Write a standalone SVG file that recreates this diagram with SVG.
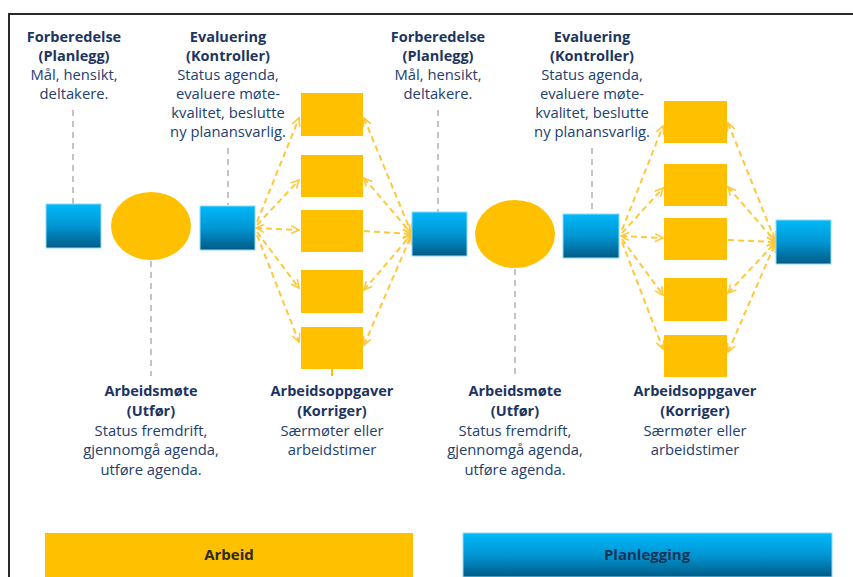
<svg xmlns="http://www.w3.org/2000/svg" width="853" height="577" viewBox="0 0 853 577">
<style>
.bg{fill:#ffffff}
.frame{fill:none;stroke:#2a2a2a;stroke-width:2}
.blue{fill:url(#blueGrad);stroke:#8fdcf8;stroke-width:1}
.yel{fill:#FFC000}
.lead{fill:none;stroke:#c4c4c4;stroke-width:2;stroke-dasharray:6 5}
.ytick{fill:none;stroke:#FFC000;stroke-width:2}
.con{fill:none;stroke:#FFC83A;stroke-width:2;stroke-dasharray:6 4}
.t{font-family:"Open Sans","Liberation Sans",sans-serif;font-size:14.8px;fill:#23406e;text-anchor:middle}
.b{font-weight:bold;font-size:14.5px;fill:#1c3461}
.bar{font-family:"Open Sans","Liberation Sans",sans-serif;font-size:15px;font-weight:bold;text-anchor:middle}
</style>
<defs>
<linearGradient id="blueGrad" x1="0" y1="0" x2="0" y2="1">
<stop offset="0" stop-color="#00b9f9"/>
<stop offset="0.5" stop-color="#0096d3"/>
<stop offset="1" stop-color="#005b86"/>
</linearGradient>
<marker id="arr" viewBox="0 0 10 10" refX="9" refY="5" markerWidth="10" markerHeight="10" markerUnits="userSpaceOnUse" orient="auto-start-reverse">
<path d="M1,1 L9,5 L1,9" fill="none" stroke="#FFC83A" stroke-width="1.6"/>
</marker>
</defs>
<rect class="bg" x="0" y="0" width="853" height="577"/>
<path class="frame" d="M9,577 L9,14 L853,14"/>

<g id="leaders">
<line class="lead" x1="73" y1="110" x2="73" y2="204"/>
<line class="lead" x1="228" y1="148" x2="228" y2="205"/>
<line class="lead" x1="151" y1="261" x2="151" y2="376"/>
<line class="ytick" x1="332" y1="369" x2="332" y2="376"/>
<line class="lead" x1="438" y1="110" x2="438" y2="212"/>
<line class="lead" x1="592" y1="148" x2="592" y2="213"/>
<line class="lead" x1="515" y1="269" x2="515" y2="376"/>
</g>

<g id="connectors">
<line class="con" x1="257" y1="222" x2="299" y2="118" marker-end="url(#arr)"/>
<line class="con" x1="257" y1="225" x2="299" y2="180" marker-end="url(#arr)"/>
<line class="con" x1="256" y1="228" x2="299" y2="230" marker-start="url(#arr)" marker-end="url(#arr)"/>
<line class="con" x1="257" y1="232" x2="299" y2="288" marker-end="url(#arr)"/>
<line class="con" x1="257" y1="235" x2="299" y2="342" marker-end="url(#arr)"/>
<line class="con" x1="364" y1="118" x2="411" y2="232" marker-start="url(#arr)" marker-end="url(#arr)"/>
<line class="con" x1="364" y1="178" x2="411" y2="233" marker-start="url(#arr)" marker-end="url(#arr)"/>
<line class="con" x1="364" y1="231" x2="411" y2="234" marker-end="url(#arr)"/>
<line class="con" x1="364" y1="290" x2="411" y2="235" marker-start="url(#arr)" marker-end="url(#arr)"/>
<line class="con" x1="364" y1="345" x2="411" y2="236" marker-start="url(#arr)" marker-end="url(#arr)"/>

<line class="con" x1="622" y1="230" x2="663" y2="126" marker-end="url(#arr)"/>
<line class="con" x1="622" y1="233" x2="663" y2="188" marker-end="url(#arr)"/>
<line class="con" x1="621" y1="236" x2="663" y2="238" marker-start="url(#arr)" marker-end="url(#arr)"/>
<line class="con" x1="622" y1="239" x2="663" y2="295" marker-end="url(#arr)"/>
<line class="con" x1="622" y1="242" x2="663" y2="349" marker-end="url(#arr)"/>
<line class="con" x1="728" y1="123" x2="775" y2="240" marker-start="url(#arr)" marker-end="url(#arr)"/>
<line class="con" x1="728" y1="187" x2="775" y2="241" marker-start="url(#arr)" marker-end="url(#arr)"/>
<line class="con" x1="728" y1="240" x2="775" y2="242" marker-end="url(#arr)"/>
<line class="con" x1="728" y1="293" x2="775" y2="243" marker-start="url(#arr)" marker-end="url(#arr)"/>
<line class="con" x1="728" y1="352" x2="775" y2="244" marker-start="url(#arr)" marker-end="url(#arr)"/>
</g>

<g id="plan1"><rect class="blue" x="46" y="204" width="55" height="44"/></g>
<g id="meeting1"><ellipse class="yel" cx="151" cy="226" rx="40" ry="34"/></g>
<g id="eval1"><rect class="blue" x="200" y="206" width="55" height="44"/></g>
<g id="task1a"><rect class="yel" x="301" y="93" width="62" height="43"/></g>
<g id="task1b"><rect class="yel" x="301" y="155" width="62" height="42"/></g>
<g id="task1c"><rect class="yel" x="301" y="210" width="62" height="42"/></g>
<g id="task1d"><rect class="yel" x="301" y="270" width="62" height="43"/></g>
<g id="task1e"><rect class="yel" x="301" y="327" width="62" height="42"/></g>
<g id="plan2"><rect class="blue" x="412" y="212" width="55" height="44"/></g>
<g id="meeting2"><ellipse class="yel" cx="515" cy="234" rx="40" ry="34"/></g>
<g id="eval2"><rect class="blue" x="563" y="214" width="56" height="44"/></g>
<g id="task2a"><rect class="yel" x="664" y="101" width="63" height="42"/></g>
<g id="task2b"><rect class="yel" x="664" y="164" width="63" height="42"/></g>
<g id="task2c"><rect class="yel" x="664" y="218" width="63" height="42"/></g>
<g id="task2d"><rect class="yel" x="664" y="278" width="63" height="43"/></g>
<g id="task2e"><rect class="yel" x="664" y="335" width="63" height="42"/></g>
<g id="plan3"><rect class="blue" x="776" y="220" width="55" height="44"/></g>

<g id="label-forb1">
<text class="t b" x="74" y="42">Forberedelse</text>
<text class="t b" x="74" y="61">(Planlegg)</text>
<text class="t" x="74" y="80">Mål, hensikt,</text>
<text class="t" x="74" y="99">deltakere.</text>
</g>
<g id="label-eval1">
<text class="t b" x="228" y="42">Evaluering</text>
<text class="t b" x="228" y="61">(Kontroller)</text>
<text class="t" x="228" y="80">Status agenda,</text>
<text class="t" x="228" y="99">evaluere møte-</text>
<text class="t" x="228" y="118">kvalitet, beslutte</text>
<text class="t" x="228" y="137">ny planansvarlig.</text>
</g>
<g id="label-forb2">
<text class="t b" x="438" y="42">Forberedelse</text>
<text class="t b" x="438" y="61">(Planlegg)</text>
<text class="t" x="438" y="80">Mål, hensikt,</text>
<text class="t" x="438" y="99">deltakere.</text>
</g>
<g id="label-eval2">
<text class="t b" x="592" y="42">Evaluering</text>
<text class="t b" x="592" y="61">(Kontroller)</text>
<text class="t" x="592" y="80">Status agenda,</text>
<text class="t" x="592" y="99">evaluere møte-</text>
<text class="t" x="592" y="118">kvalitet, beslutte</text>
<text class="t" x="592" y="137">ny planansvarlig.</text>
</g>
<g id="label-arb1">
<text class="t b" x="151" y="396">Arbeidsmøte</text>
<text class="t b" x="151" y="416">(Utfør)</text>
<text class="t" x="151" y="436">Status fremdrift,</text>
<text class="t" x="151" y="455">gjennomgå agenda,</text>
<text class="t" x="151" y="475">utføre agenda.</text>
</g>
<g id="label-opp1">
<text class="t b" x="332" y="396">Arbeidsoppgaver</text>
<text class="t b" x="332" y="416">(Korriger)</text>
<text class="t" x="332" y="436">Særmøter eller</text>
<text class="t" x="332" y="455">arbeidstimer</text>
</g>
<g id="label-arb2">
<text class="t b" x="515" y="396">Arbeidsmøte</text>
<text class="t b" x="515" y="416">(Utfør)</text>
<text class="t" x="515" y="436">Status fremdrift,</text>
<text class="t" x="515" y="455">gjennomgå agenda,</text>
<text class="t" x="515" y="475">utføre agenda.</text>
</g>
<g id="label-opp2">
<text class="t b" x="695" y="396">Arbeidsoppgaver</text>
<text class="t b" x="695" y="416">(Korriger)</text>
<text class="t" x="695" y="436">Særmøter eller</text>
<text class="t" x="695" y="455">arbeidstimer</text>
</g>

<g id="bar-arbeid">
<rect class="yel" x="45" y="533" width="368" height="44"/>
<text class="bar" x="229" y="560" fill="#2e2a22">Arbeid</text>
</g>
<g id="bar-planlegging">
<rect class="blue" x="463" y="533" width="369" height="44"/>
<text class="bar" x="647" y="560" fill="#1a3458">Planlegging</text>
</g>
</svg>
